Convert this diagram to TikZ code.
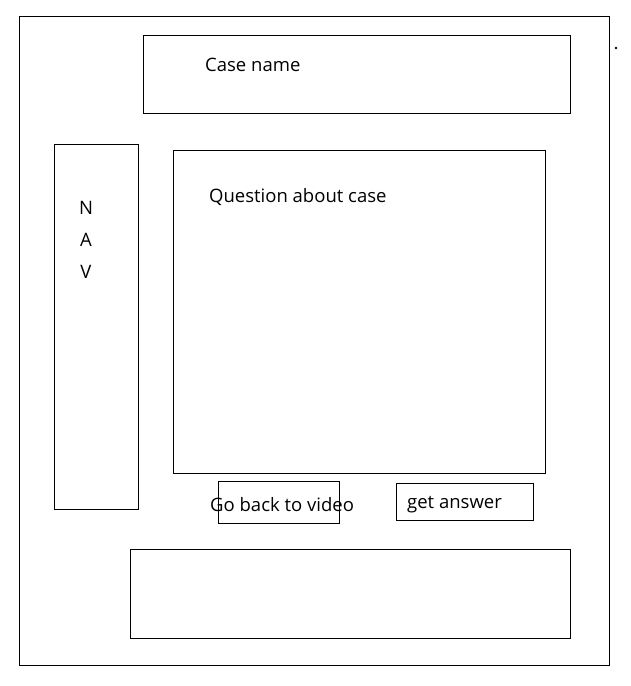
\documentclass[tikz,border=0pt]{standalone}
\usepackage{fontspec}
\setmainfont{Open Sans}
\usepackage{tikz}
\usetikzlibrary{positioning}

\begin{document}
\begin{tikzpicture}[x=1pt, y=-1pt,
box/.style = {
draw=black,
line width=1pt,
inner sep=0pt,
anchor=north west
},
label/.style = {
inner sep=0pt,
anchor=base west,
font=\fontsize{18.5}{22}\selectfont
}]
\useasboundingbox (0,0) rectangle (630,686);

% frames
\node[box, minimum width=590pt, minimum height=649pt] (page) at (19,16) {};
\node[box, minimum width=427pt, minimum height=78pt] (casename) at (143,35) {};
\node[box, minimum width=84pt, minimum height=365pt] (nav) at (54,144) {};
\node[box, minimum width=372pt, minimum height=323pt] (question) at (173,150) {};
\node[box, minimum width=121pt, minimum height=42pt] (goback) at (218,481) {};
\node[box, minimum width=137pt, minimum height=37pt] (answer) at (396,483) {};
\node[box, minimum width=440pt, minimum height=89pt] (footer) at (130,549) {};
\fill (616,48) circle (1.3pt);

% texts
\node[label] (casetext) at (205,71) {Case name};
\node[label] (questiontext) at (209,202) {Question about case};
\node[label, anchor=base] (navN) at (86,214) {N};
\node[label, anchor=base] (navA) at (86,246) {A};
\node[label, anchor=base] (navV) at (86,278) {V};
\node[label] (gobacktext) at (210,511) {Go back to video};
\node[label] (answertext) at (407,508) {get answer};

\end{tikzpicture}
\end{document}
